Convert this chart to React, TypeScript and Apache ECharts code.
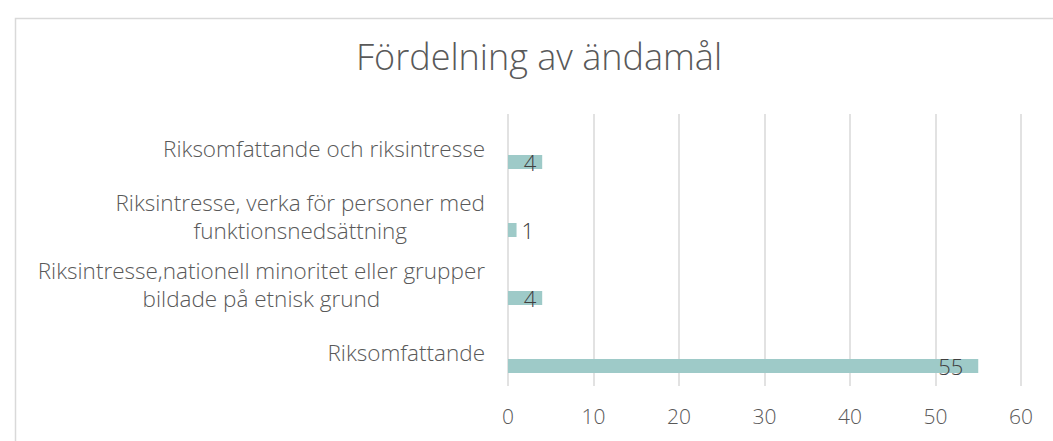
import React, { useEffect, useRef } from "react";
import * as echarts from "echarts";

const title = "Fördelning av ändamål";
const categories = [
  "Riksomfattande och riksintresse",
  "Riksintresse, verka för personer med\nfunktionsnedsättning",
  "Riksintresse,nationell minoritet eller grupper\nbildade på etnisk grund",
  "Riksomfattande",
];
const values = [4, 1, 4, 55];
const axisMin = 0;
const axisMax = 60;
const axisStep = 10;

const FONT = "'Open Sans', sans-serif";
const TEXT = "#595959";

export default function App() {
  const ref = useRef<HTMLDivElement>(null);
  useEffect(() => {
    if (!ref.current) return;
    const chart = echarts.init(ref.current, undefined, { renderer: "svg" });
    chart.setOption({
      animation: false,
      backgroundColor: "#ffffff",
      title: {
        text: title,
        left: 351,
        top: 33,
        textStyle: { fontFamily: FONT, fontWeight: 300, fontSize: 36, color: TEXT },
      },
      graphic: [
        {
          type: "rect",
          left: 13,
          top: 16,
          shape: { width: 1100, height: 500 },
          style: { fill: "none", stroke: "#d9d9d9", lineWidth: 1.5 },
          silent: true,
        },
      ],
      grid: { left: 508, right: 32, top: 114, bottom: 55, containLabel: false },
      xAxis: {
        type: "value",
        min: axisMin,
        max: axisMax,
        interval: axisStep,
        axisLine: { show: false },
        axisTick: { show: false },
        splitLine: { show: true, lineStyle: { color: "#d9d9d9", width: 1.5 } },
        axisLabel: { fontFamily: FONT, fontWeight: 300, fontSize: 21, color: TEXT, margin: 19 },
      },
      yAxis: {
        type: "category",
        data: categories,
        inverse: true,
        axisLine: { show: false },
        axisTick: { show: false },
        splitLine: { show: false },
        axisLabel: {
          margin: 23,
          formatter: (v: string) => v.split("\n").map((l) => `{c|${l}}`).join("\n"),
          rich: {
            c: {
              align: "center",
              fontFamily: FONT,
              fontWeight: 300,
              fontSize: 22.5,
              lineHeight: 28,
              color: TEXT,
            },
          },
        },
      },
      series: [
        {
          type: "bar",
          data: categories.map(() => "-"),
          barWidth: 14,
          barGap: "100%",
          silent: true,
        },
        {
          type: "bar",
          data: values.map((v) => ({
            value: v,
            label:
              v < 2
                ? { position: "right", distance: 5 }
                : { position: "insideRight", distance: v >= 10 ? 15 : 6 },
          })),
          barWidth: 14,
          barGap: "100%",
          itemStyle: { color: "#9ECAC8" },
          label: {
            show: true,
            fontFamily: FONT,
            fontWeight: 300,
            fontSize: 22,
            color: "#404040",
          },
        },
      ],
    });
    return () => chart.dispose();
  }, []);
  return (
    <div
      ref={ref}
      style={{ position: "fixed", left: 0, top: 0, width: 1053, height: 441 }}
    />
  );
}
